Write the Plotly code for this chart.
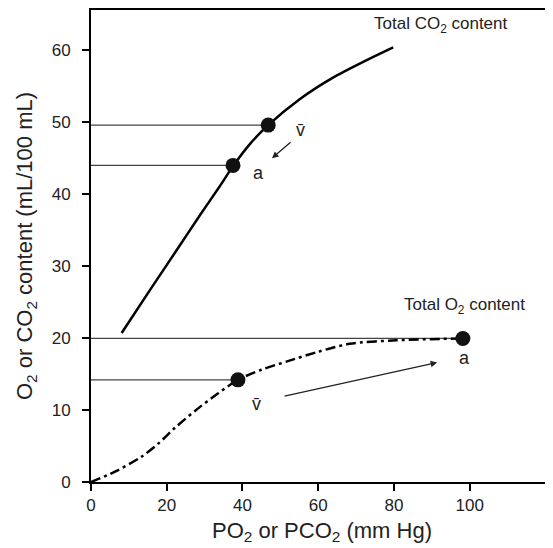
import plotly.graph_objects as go

# CO2 dissociation curve (PCO2, content)
co2_x = [8.1, 15.6, 22.6, 28.8, 34.0, 37.5, 42.0, 46.8, 55.1, 63.9, 72.7, 79.8]
co2_y = [20.7, 26.7, 32.2, 37.1, 41.1, 43.9, 47.0, 49.6, 53.2, 56.2, 58.6, 60.4]
# O2 dissociation curve (PO2, content)
o2_x = [0.0, 6.2, 13.3, 17.7, 22.1, 28.2, 33.5, 38.8, 45.0, 52.0, 60.0, 68.3, 80.7, 98.2]
o2_y = [0.0, 1.4, 3.5, 5.3, 7.5, 10.2, 12.3, 14.2, 15.6, 16.8, 18.1, 19.2, 19.7, 19.95]

# key points: mixed venous (v̄) and arterial (a)
co2_pts_x = [46.8, 37.5]
co2_pts_y = [49.6, 44.0]
o2_pts_x = [38.8, 98.2]
o2_pts_y = [14.2, 19.95]

# labels
lab_text = ["v\u0304", "a", "v\u0304", "a"]
lab_x = [55.3, 44.1, 43.7, 98.5]
lab_y = [48.9, 43.0, 10.9, 17.3]

# arrows (tail -> head)
arr_tail_x = [53.1, 50.7]
arr_tail_y = [47.4, 11.9]
arr_head_x = [47.8, 91.4]
arr_head_y = [45.0, 16.6]

font = "Liberation Sans, Arial, sans-serif"
fig = go.Figure()

# horizontal reference lines from the y axis to each point
for px, py in list(zip(co2_pts_x, co2_pts_y)) + list(zip(o2_pts_x, o2_pts_y)):
    fig.add_trace(go.Scatter(x=[0, px], y=[py, py], mode="lines",
                             line=dict(color="#444", width=1.3), showlegend=False, hoverinfo="skip"))

fig.add_trace(go.Scatter(x=co2_x, y=co2_y, mode="lines",
                         line=dict(color="black", width=2.5, shape="spline", smoothing=0.8),
                         showlegend=False))
fig.add_trace(go.Scatter(x=o2_x, y=o2_y, mode="lines",
                         line=dict(color="black", width=2.5, shape="spline", smoothing=0.8,
                                   dash="10px,4px,3px,4px"),
                         showlegend=False))
fig.add_trace(go.Scatter(x=co2_pts_x + o2_pts_x, y=co2_pts_y + o2_pts_y, mode="markers",
                         marker=dict(color="#111", size=15), showlegend=False))

for t, x, y in zip(lab_text, lab_x, lab_y):
    fig.add_annotation(x=x, y=y, text=t, showarrow=False, font=dict(family=font, size=18, color="#222"))

for tx, ty, hx, hy in zip(arr_tail_x, arr_tail_y, arr_head_x, arr_head_y):
    fig.add_annotation(x=hx, y=hy, ax=tx, ay=ty, xref="x", yref="y", axref="x", ayref="y",
                       text="", showarrow=True, arrowhead=2, arrowsize=1, arrowwidth=1.3, arrowcolor="#222")

fig.add_annotation(x=74.2, y=63.5, text="Total CO<sub>2</sub> content", showarrow=False, xanchor="left",
                   font=dict(family=font, size=17, color="#222"))
fig.add_annotation(x=82.0, y=24.5, text="Total O<sub>2</sub> content", showarrow=False, xanchor="left",
                   font=dict(family=font, size=17, color="#222"))

fig.update_layout(
    width=545, height=540,
    margin=dict(l=83, r=0, t=2, b=66),
    plot_bgcolor="white", paper_bgcolor="white",
    font=dict(family=font, color="#222"),
)
fig.update_xaxes(range=[0, 122], tickvals=[0, 20, 40, 60, 80, 100], showgrid=False, zeroline=False,
                 automargin=False,
                 showline=True, linecolor="black", linewidth=2, mirror=True,
                 ticks="outside", ticklen=7, tickwidth=1.5, tickcolor="black",
                 tickfont=dict(size=17),
                 title=dict(text="PO<sub>2</sub> or PCO<sub>2</sub> (mm Hg)", font=dict(size=22), standoff=8))
fig.update_yaxes(range=[0, 65.6], tickvals=[0, 10, 20, 30, 40, 50, 60], showgrid=False, zeroline=False,
                 automargin=False,
                 showline=True, linecolor="black", linewidth=2,
                 ticks="outside", ticklen=7, tickwidth=1.5, tickcolor="black",
                 tickfont=dict(size=17), ticklabelstandoff=8,
                 title=dict(text="O<sub>2</sub> or CO<sub>2</sub> content (mL/100 mL)", font=dict(size=22), standoff=13))

fig.write_html("out.html")
